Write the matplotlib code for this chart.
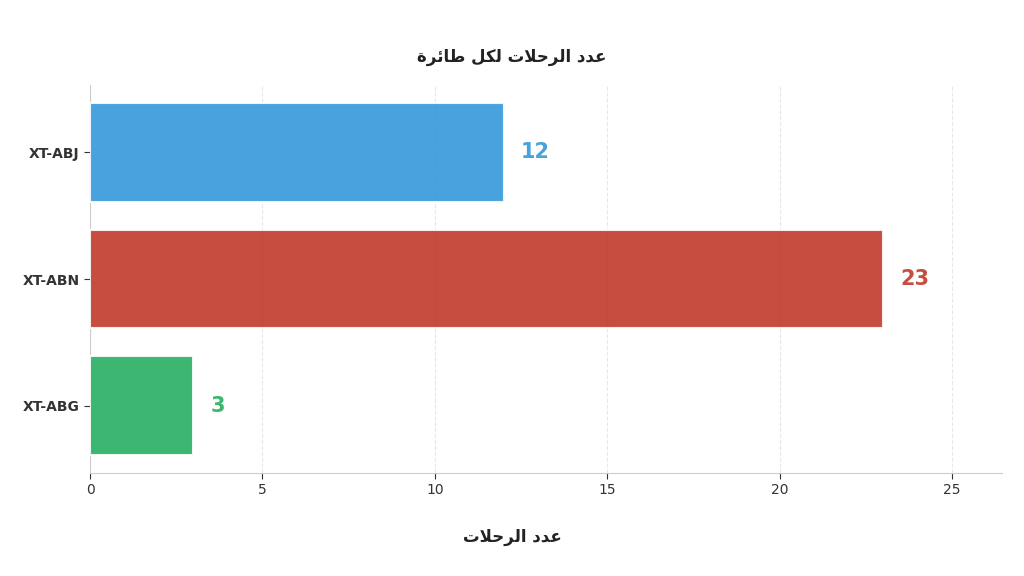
import matplotlib
matplotlib.use('Agg')
import matplotlib.pyplot as plt

# data
aircraft = ['XT-ABJ', 'XT-ABN', 'XT-ABG']
flights = [12, 23, 3]
bar_colors = ['#3498db', '#c0392b', '#27ae60']

title_text = 'عدد الرحلات لكل طائرة'
xlabel_text = 'عدد الرحلات'

# Arabic presentation forms: (isolated, final, initial, medial)
FORMS = {
    'ا': ('\uFE8D', '\uFE8E', None, None),
    'د': ('\uFEA9', '\uFEAA', None, None),
    'ر': ('\uFEAD', '\uFEAE', None, None),
    'ة': ('\uFE93', '\uFE94', None, None),
    'ع': ('\uFEC9', '\uFECA', '\uFECB', '\uFECC'),
    'ل': ('\uFEDD', '\uFEDE', '\uFEDF', '\uFEE0'),
    'ح': ('\uFEA1', '\uFEA2', '\uFEA3', '\uFEA4'),
    'ت': ('\uFE95', '\uFE96', '\uFE97', '\uFE98'),
    'ك': ('\uFED9', '\uFEDA', '\uFEDB', '\uFEDC'),
    'ط': ('\uFEC1', '\uFEC2', '\uFEC3', '\uFEC4'),
    'ئ': ('\uFE89', '\uFE8A', '\uFE8B', '\uFE8C'),
    'لا': ('\uFEFB', '\uFEFC', None, None),
}


def shape_arabic(text):
    '''Joins letters with presentation forms and reverses for LTR drawing'''
    chars = []
    i = 0
    while i < len(text):
        if text[i] == 'ل' and i + 1 < len(text) and text[i + 1] == 'ا':
            chars.append('لا')
            i += 2
        else:
            chars.append(text[i])
            i += 1
    out = []
    for k, c in enumerate(chars):
        if c not in FORMS:
            out.append(c)
            continue
        prev = chars[k - 1] if k > 0 else None
        nxt = chars[k + 1] if k + 1 < len(chars) else None
        join_prev = prev in FORMS and FORMS[prev][2] is not None
        join_next = FORMS[c][2] is not None and nxt in FORMS
        iso, fin, ini, med = FORMS[c]
        if join_prev and join_next:
            out.append(med)
        elif join_prev:
            out.append(fin)
        elif join_next:
            out.append(ini)
        else:
            out.append(iso)
    return ''.join(out[::-1])


fig = plt.figure(figsize=(10.24, 5.76), dpi=100)
ax = fig.add_axes([0.0879, 0.1788, 0.8906, 0.6736])

ypos = list(range(len(aircraft)))
ax.barh(ypos, flights, height=0.78, color=bar_colors, alpha=0.9,
        edgecolor='white', linewidth=1.5, zorder=3)
ax.invert_yaxis()
ax.set_yticks(ypos)
ax.set_yticklabels(aircraft, fontsize=10, fontweight='bold', color='#222222')
ax.set_xlim(0, max(flights) * 1.15)
ax.set_xticks([0, 5, 10, 15, 20, 25])
ax.tick_params(axis='x', labelsize=10, colors='#333333', length=4)
ax.tick_params(axis='y', length=4, colors='#333333')

for y, v, c in zip(ypos, flights, bar_colors):
    ax.text(v + 0.5, y, str(v), va='center', ha='left', fontsize=15,
            fontweight='bold', color=c, alpha=0.9)

ax.grid(axis='x', linestyle='--', color='#dddddd', linewidth=0.8, alpha=0.7, zorder=0)
for side in ['top', 'right']:
    ax.spines[side].set_visible(False)
for side in ['left', 'bottom']:
    ax.spines[side].set_color('#cccccc')

fig.text(0.5, 0.901, shape_arabic(title_text), fontsize=12, fontweight='bold',
         color='#222222', ha='center', va='center')
fig.text(0.5, 0.068, shape_arabic(xlabel_text), fontsize=12, fontweight='bold',
         color='#222222', ha='center', va='center')

fig.savefig('out.png', dpi=100, facecolor='white')
